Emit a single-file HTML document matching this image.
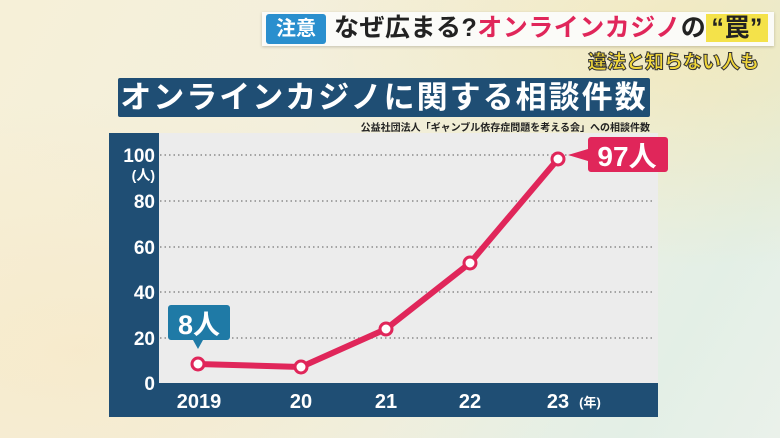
<!DOCTYPE html>
<html><head><meta charset="utf-8"><style>
*{margin:0;padding:0;box-sizing:border-box}
body{width:780px;height:438px;overflow:hidden;position:relative;font-family:"Liberation Sans","Noto Sans CJK JP",sans-serif;
background:linear-gradient(120deg,#f6f0d8 0%,#f3efdc 35%,#eef0e2 60%,#e3efe6 85%,#eaf1ea 100%)}
.abs{position:absolute}
</style></head><body>
<div class="abs" style="left:0;top:0;width:780px;height:438px;background:radial-gradient(ellipse at 90% 10%,rgba(255,220,120,.35),transparent 40%),radial-gradient(ellipse at 10% 80%,rgba(250,230,190,.5),transparent 50%)"></div>
<!-- header -->
<div class="abs" style="left:262px;top:12px;width:512px;height:34px;background:#fbfbf8;box-shadow:0 1px 3px rgba(0,0,0,.2)"></div>
<div class="abs" style="left:266px;top:14px;width:60px;height:30px;background:#2a8fce;border-radius:3px;color:#fff;font-size:20px;font-weight:bold;line-height:30px;text-align:center">注意</div>
<div class="abs" style="left:334px;top:11px;font-size:25px;font-weight:bold;line-height:34px;color:#222;white-space:nowrap;letter-spacing:0.5px">なぜ広まる?<span style="color:#e0265a">オンラインカジノ</span>の<span style="background:#f4e24a;padding:0 5px">“罠”</span></div>
<div class="abs" style="left:588px;top:47px;font-size:19px;font-weight:900;color:#f2d73a;-webkit-text-stroke:1px #333;white-space:nowrap">違法と知らない人も</div>
<!-- title -->
<div class="abs" style="left:118px;top:78px;width:532px;height:39px;background:#1f4e74;border-radius:2px;color:#fff;font-size:31px;font-weight:bold;line-height:39px;text-align:center;letter-spacing:2px;white-space:nowrap">オンラインカジノに関する相談件数</div>
<div class="abs" style="left:330px;top:119px;width:320px;text-align:right;font-size:10px;font-weight:bold;color:#222;white-space:nowrap">公益社団法人「ギャンブル依存症問題を考える会」への相談件数</div>
<!-- chart -->
<svg class="abs" style="left:0;top:0" width="780" height="438" font-family="Liberation Sans, Noto Sans CJK JP, sans-serif">
<rect x="109" y="133" width="549" height="284" fill="#1f4e74"/>
<rect x="159" y="133" width="499" height="250" fill="#ececec"/>
<g stroke="#777" stroke-width="1.2" stroke-dasharray="1.5 3">
<line x1="160" y1="155" x2="654" y2="155"/><line x1="160" y1="201" x2="654" y2="201"/>
<line x1="160" y1="247" x2="654" y2="247"/><line x1="160" y1="292" x2="654" y2="292"/>
<line x1="160" y1="338" x2="654" y2="338"/></g>
<g fill="#fff" font-size="19" font-weight="bold" text-anchor="end">
<text x="155" y="162">100</text><text x="155" y="208">80</text><text x="155" y="254">60</text>
<text x="155" y="299">40</text><text x="155" y="345">20</text><text x="155" y="390">0</text>
<text x="155" y="180" font-size="14">(人)</text></g>
<g fill="#fff" font-size="20" font-weight="bold" text-anchor="middle">
<text x="199" y="408">2019</text><text x="301" y="408">20</text><text x="386" y="408">21</text>
<text x="470" y="408">22</text><text x="558" y="408">23</text><text x="590" y="407" font-size="13">(年)</text></g>
<polyline points="198,364 301,367 386,329 470,263 558,159" fill="none" stroke="#e0265a" stroke-width="6" stroke-linejoin="round"/>
<g fill="#fff" stroke="#e0265a" stroke-width="3">
<circle cx="198" cy="364" r="6"/><circle cx="301" cy="367" r="6"/><circle cx="386" cy="329" r="6"/>
<circle cx="470" cy="263" r="6"/><circle cx="558" cy="159" r="6"/></g>
<path d="M171 305h56a3 3 0 0 1 3 3v29a3 3 0 0 1-3 3h-24l-5 9-5-9h-22a3 3 0 0 1-3-3v-29a3 3 0 0 1 3-3z" fill="#1f7aa6"/>
<text x="199" y="334" fill="#fff" font-size="27" font-weight="bold" text-anchor="middle">8人</text>
<path d="M591 137h74a3 3 0 0 1 3 3v29a3 3 0 0 1-3 3h-74a3 3 0 0 1-3-3v-8l-20-6 20-6v-9a3 3 0 0 1 3-3z" fill="#e0265a"/>
<text x="627" y="166" fill="#fff" font-size="28" font-weight="bold" text-anchor="middle">97人</text>
</svg>
</body></html>
